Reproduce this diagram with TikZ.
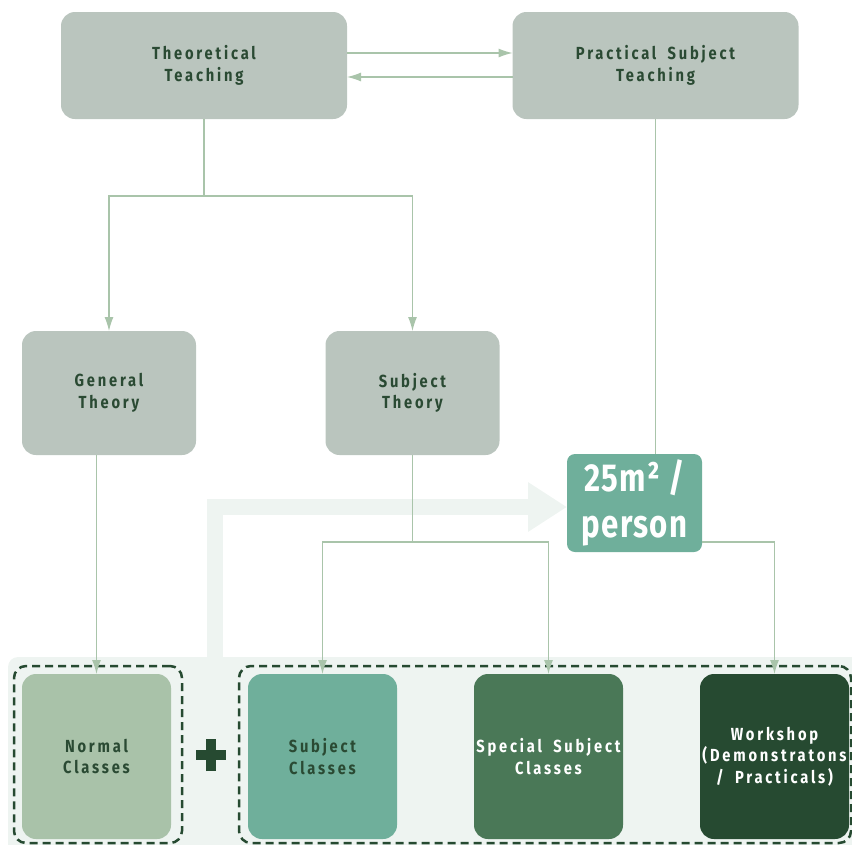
\documentclass[tikz,border=0pt]{standalone}
\usepackage{fontspec}
\setmainfont{Fira Sans}[FakeStretch=0.84, LetterSpace=16, WordSpace=1.8]
\newfontfamily\bigfont{Fira Sans}[FakeStretch=0.8, LetterSpace=3]
\usepackage{tikz}
\usetikzlibrary{arrows.meta, positioning}
\definecolor{boxgrey}{HTML}{BAC5BE}
\definecolor{linegreen}{HTML}{A9C4AA}
\definecolor{textdark}{HTML}{2A4A33}
\definecolor{sage}{HTML}{A9C2A9}
\definecolor{mint}{HTML}{6FAF9B}
\definecolor{midgreen}{HTML}{4A7857}
\definecolor{deepgreen}{HTML}{264A31}
\definecolor{bandbg}{HTML}{EEF4F1}

\begin{document}
\begin{tikzpicture}[
  x=1pt, y=-1pt,
  every node/.style={font=\bfseries\fontsize{17.5}{21.5}\selectfont, align=center,
                     inner sep=0pt, outer sep=0pt},
  teach/.style={rectangle, fill=boxgrey, text=textdark, rounded corners=14pt,
                minimum width=286pt, minimum height=107pt},
  theory/.style={teach, minimum width=174pt, minimum height=124pt},
  area/.style={rectangle, fill=mint, text=white, rounded corners=8pt,
               minimum width=135pt, minimum height=98pt,
               font=\bigfont\bfseries\fontsize{39}{46}\selectfont},
  room/.style={rectangle, rounded corners=14pt, minimum width=149pt,
               minimum height=165pt},
  group/.style={rectangle, draw=deepgreen, line width=2.5pt,
                dash pattern=on 8pt off 5pt, rounded corners=12pt},
  flow/.style={-{Latex[length=14pt,width=9pt]}, line width=1.2pt, color=linegreen},
  link/.style={line width=1.2pt, color=linegreen},
  bigflow/.style={-{Triangle[length=39pt,width=47pt]}, line width=16pt, color=bandbg},
]
\useasboundingbox (0,0) rectangle (852,844);

% Background band
\fill[bandbg, rounded corners=10pt] (8,657) rectangle (880,870);

% Teaching
\node[teach] (theo) at (204,65.5)   {Theoretical\\Teaching};
\node[teach] (prac) at (655.5,65.5) {Practical Subject\\Teaching};

% Theory
\node[theory] (gen)  at (109,393)   {General\\Theory};
\node[theory] (subj) at (412.5,393) {Subject\\Theory};

% Space per person
\node[area] (area) at (634.5,503) {25m² /\\person};

% Groups
\node[group, minimum width=168pt, minimum height=177pt] (grp1) at (98,754.5) {};
\node[group, minimum width=612pt, minimum height=177pt] (grp2) at (545,754.5) {};

% Classes
\node[room, fill=sage,      text=textdark] (normal)   at (96.5,756.5)  {Normal\\Classes};
\node[room, fill=mint,      text=textdark] (subjcls)  at (322.5,756.5) {Subject\\Classes};
\node[room, fill=midgreen,  text=white]    (special)  at (548.5,756.5) {Special Subject\\Classes};
\node[room, fill=deepgreen, text=white]    (workshop) at (774.5,756.5) {Workshop\\(Demonstratons\\/ Practicals)};

% Plus
\coordinate (plus) at (211,755);
\draw[deepgreen, line width=10pt] ([xshift=-15pt]plus) -- ([xshift=15pt]plus)
                                  ([yshift=-16pt]plus) -- ([yshift=16pt]plus);

% ── Big arrow ──
\coordinate (bigstart) at (215,657);
\draw[bigflow] (bigstart) |- ([yshift=-4pt]area.west);

% ── Teaching flows ──
\draw[flow] ([yshift=12.5pt]theo.east) -- ([yshift=12.5pt]prac.west);
\draw[flow] ([yshift=-11.5pt]prac.west) -- ([yshift=-11.5pt]theo.east);

% ── Theory flows ──
\draw[flow] (theo.south) -- ++(0,77) -| (gen.north);
\draw[flow] (theo.south) -- ++(0,77) -| (subj.north);
\draw[link] (prac.south) -- (prac.south |- area.north);

% ── Class flows ──
\draw[flow] (gen.south -| normal.north) -- (normal.north);
\draw[flow] (subj.south) -- ++(0,87) -| (subjcls.north);
\draw[flow] (subj.south) -- ++(0,87) -| (special.north);
\draw[flow] ([yshift=-39pt]area.east) -| (workshop.north);

\end{tikzpicture}
\end{document}
